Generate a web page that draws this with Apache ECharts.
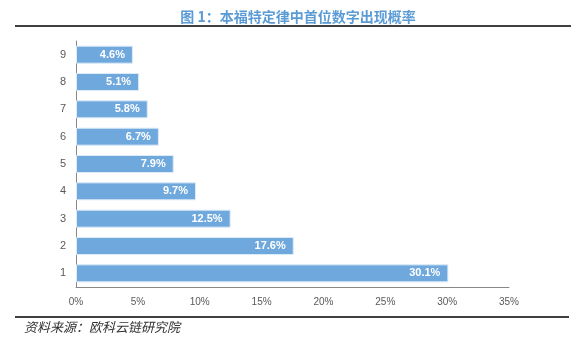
<!DOCTYPE html>
<html><head><meta charset="utf-8">
<script src="https://cdn.jsdelivr.net/npm/echarts@6/dist/echarts.min.js"></script>
<style>html,body{margin:0;padding:0;background:#fff}#c{width:586px;height:341px}</style>
</head><body><div id="c"></div>
<script>
const categories = ['1','2','3','4','5','6','7','8','9'];
const values = [30.1, 17.6, 12.5, 9.7, 7.9, 6.7, 5.8, 5.1, 4.6];
const xTicks = [0, 5, 10, 15, 20, 25, 30, 35];
const titleText = '图 1：本福特定律中首位数字出现概率';
const sourceText = '资料来源：欧科云链研究院';

const chart = echarts.init(document.getElementById('c'));
chart.setOption({
  animation: false,
  title: {
    text: titleText, left: 293, top: 5, textAlign: 'center',
    textStyle: {color: '#5B9BD5', fontSize: 14, fontWeight: 'bold', fontFamily: 'Noto Sans CJK SC'}
  },
  grid: {left: 76, right: 77, top: 41, bottom: 54, containLabel: false},
  xAxis: {
    type: 'value', min: xTicks[0], max: xTicks[xTicks.length - 1], interval: 5,
    axisLine: {show: true, lineStyle: {color: '#888', width: 1}},
    axisTick: {show: false}, splitLine: {show: false},
    axisLabel: {color: '#595959', fontSize: 10, margin: 10, formatter: v => v + '%', fontFamily: 'Liberation Sans'}
  },
  yAxis: {
    type: 'category', data: categories,
    axisLine: {show: true, lineStyle: {color: '#888', width: 1}},
    axisTick: {show: false},
    axisLabel: {color: '#595959', fontSize: 11, margin: 10, fontFamily: 'Liberation Sans'}
  },
  series: [{
    type: 'bar', data: values, barWidth: 18,
    itemStyle: {color: '#6FA8DC', borderColor: '#DDEBF7', borderWidth: 1},
    label: {show: true, position: 'insideRight', distance: 8, color: '#fff', fontSize: 11, fontWeight: 'bold',
      fontFamily: 'Liberation Sans', formatter: p => p.value.toFixed(1) + '%'}
  }],
  graphic: [
    {type: 'line', shape: {x1: 15, y1: 26, x2: 571, y2: 26}, style: {stroke: '#000', lineWidth: 1.5}},
    {type: 'line', shape: {x1: 15, y1: 317, x2: 569, y2: 317}, style: {stroke: '#000', lineWidth: 1.5}},
    {type: 'text', left: 24, top: 321, style: {text: sourceText, fill: '#333', font: 'italic 13px "Noto Sans CJK SC"'}}
  ]
});
</script></body></html>
